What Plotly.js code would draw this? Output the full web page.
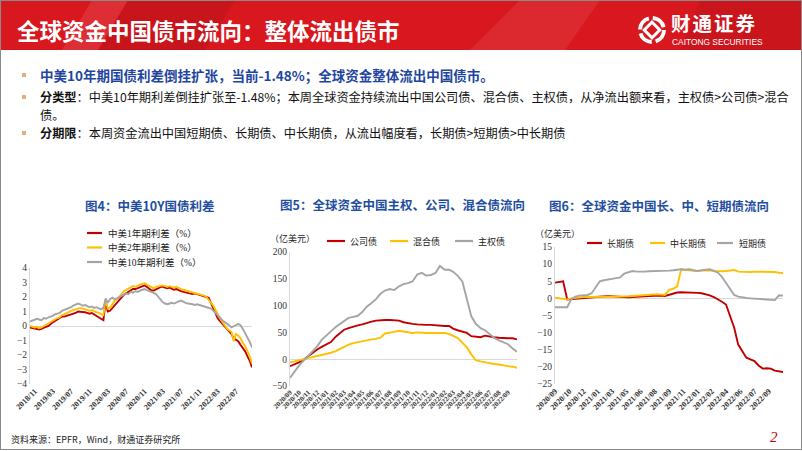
<!DOCTYPE html>
<html><head><meta charset="utf-8">
<script src="https://cdn.plot.ly/plotly-3.0.1.min.js"></script>
<style>
html,body{margin:0;padding:0;background:#fff;}
#wrap{position:relative;width:802px;height:451px;overflow:hidden;font-family:"Noto Sans CJK SC","Noto Sans",sans-serif;}
#chart{position:absolute;left:0;top:0;width:802px;height:451px;}
.t{position:absolute;white-space:nowrap;}
.dot{position:absolute;width:4px;height:4px;background:#E2B07A;}
#frame{position:absolute;left:0;top:0;width:800px;height:448px;border:1px solid #8a8a8a;pointer-events:none;}
</style></head>
<body><div id="wrap">
<svg class="t" style="left:0;top:0" width="802" height="50">
 <rect x="0" y="0" width="802" height="50" fill="#D8171E"/>
 <polygon points="92,0 128,0 98,50 62,50" fill="rgba(255,255,255,0.10)"/>
 <polygon points="128,0 235,0 205,50 98,50" fill="rgba(0,0,0,0.07)"/>
 <polygon points="520,0 600,0 565,50 470,50" fill="rgba(255,255,255,0.08)"/>
 <polygon points="700,0 802,0 802,50 680,50" fill="rgba(0,0,0,0.06)"/>
 <g transform="translate(652,30)" fill="none" stroke="#fff">
  <circle r="12" stroke-width="4" stroke-dasharray="15 4"/>
  <rect x="-5.5" y="-5.5" width="11" height="11" stroke-width="3" transform="rotate(45)"/>
 </g>
</svg>
<div class="t" style="left:17px;top:15px;font-size:22.5px;line-height:30px;font-weight:700;color:#fff;">全球资金中国债市流向：整体流出债市</div>
<div class="t" style="left:671px;top:12px;font-size:19.5px;line-height:21px;font-weight:700;color:#fff;letter-spacing:2px;">财通证券</div>
<div class="t" style="left:672px;top:38px;font-size:8.4px;line-height:9px;color:#fff;font-family:'Liberation Sans',sans-serif;">CAITONG SECURITIES</div>

<div class="dot" style="left:22px;top:73px;"></div>
<div class="t" style="left:40px;top:66px;font-size:13.5px;line-height:18px;font-weight:700;color:#1F45A0;">中美10年期国债利差倒挂扩张，当前-1.48%；全球资金整体流出中国债市。</div>
<div class="dot" style="left:22px;top:95px;"></div>
<div class="t" style="left:40px;top:88px;font-size:12.2px;line-height:18px;color:#111;"><b>分类型</b>：中美10年期利差倒挂扩张至-1.48%；本周全球资金持续流出中国公司债、混合债、主权债，从净流出额来看，主权债&gt;公司债&gt;混合<br>债。</div>
<div class="dot" style="left:22px;top:131px;"></div>
<div class="t" style="left:40px;top:124px;font-size:12.2px;line-height:18px;color:#111;"><b>分期限</b>：本周资金流出中国短期债、长期债、中长期债，从流出幅度看，长期债&gt;短期债&gt;中长期债</div>

<div id="chart"></div>
<div class="t" style="left:11px;top:434px;font-size:9px;line-height:12px;color:#222;">资料来源：EPFR，Wind，财通证券研究所</div>
<div class="t" style="left:770px;top:428px;font-size:15px;line-height:18px;color:#C00000;font-style:italic;font-family:'Liberation Serif',serif;">2</div>
<div id="frame"></div>
</div>
<script>
// ---------- Chart 4: 中美利差 (semi-monthly) ----------
const months4 = ['2018-10','2018-11','2018-12','2019-01','2019-02','2019-03','2019-04','2019-05','2019-06','2019-07','2019-08','2019-09','2019-10','2019-11','2019-12',
 '2020-01','2020-02','2020-03','2020-04','2020-05','2020-06','2020-07','2020-08','2020-09','2020-10','2020-11','2020-12',
 '2021-01','2021-02','2021-03','2021-04','2021-05','2021-06','2021-07','2021-08','2021-09','2021-10','2021-11','2021-12',
 '2022-01','2022-02','2022-03','2022-04','2022-05','2022-06','2022-07','2022-08','2022-09','2022-10'];
const spread1y = [-0.10,-0.15, -0.20,-0.25, -0.25,-0.20, -0.15,-0.05, 0.00,0.15, 0.25,0.35, 0.45,0.55, 0.65,0.65, 0.70,0.75, 0.75,0.85, 0.90,1.00, 1.00,0.95, 0.95,0.90, 0.85,0.90, 0.80,0.75,
 0.65,0.50, 0.40,1.70, 1.00,1.05, 1.25,1.45, 1.60,1.75, 1.95,2.15, 2.25,2.35, 2.45,2.55, 2.55,2.60, 2.70,2.75, 2.80,2.70, 2.55,2.45,
 2.45,2.55, 2.65,2.70, 2.70,2.65, 2.60,2.65, 2.55,2.50, 2.55,2.45, 2.40,2.35, 2.30,2.30, 2.25,2.20, 2.25,2.20, 2.20,2.15, 2.10,2.05,
 1.95,1.60, 1.20,0.90, 0.55,0.35, 0.15,-0.05, -0.20,-0.40, -0.55,-0.85, -0.95,-1.05, -1.30,-1.50, -1.75,-2.10, -2.40,-2.85];
const spread2y = [0.00,-0.05, -0.10,-0.05, -0.15,-0.10, 0.00,0.10, 0.20,0.30, 0.35,0.45, 0.55,0.60, 0.75,0.80, 0.85,0.95, 1.05,1.10, 1.15,1.20, 1.25,1.20, 1.15,1.10, 1.05,1.10, 1.00,0.95,
 0.90,0.80, 0.75,1.80, 1.20,1.25, 1.50,1.75, 1.85,2.00, 2.20,2.40, 2.50,2.60, 2.65,2.75, 2.70,2.80, 2.85,2.90, 2.95,2.85, 2.75,2.65,
 2.60,2.70, 2.75,2.80, 2.80,2.75, 2.70,2.75, 2.70,2.65, 2.70,2.60, 2.55,2.50, 2.45,2.40, 2.35,2.30, 2.30,2.25, 2.20,2.15, 2.10,2.00,
 1.80,1.55, 1.40,1.10, 0.80,0.55, 0.30,0.05, -0.15,-0.30, -0.40,-1.05, -0.55,-0.65, -0.85,-1.15, -1.40,-1.75, -2.10,-2.60];
const spread10y = [0.30,0.35, 0.40,0.50, 0.45,0.40, 0.55,0.50, 0.60,0.65, 0.70,0.80, 0.85,0.90, 1.05,1.10, 1.15,1.25, 1.30,1.40, 1.45,1.55, 1.50,1.40, 1.45,1.35, 1.30,1.35, 1.25,1.30,
 1.20,1.15, 1.25,1.90, 1.60,1.85, 1.95,1.85, 1.90,2.00, 2.10,2.20, 2.25,2.20, 2.35,2.30, 2.40,2.35, 2.45,2.50, 2.55,2.45, 2.40,2.35,
 2.30,2.20, 2.00,1.80, 1.65,1.55, 1.50,1.55, 1.60,1.55, 1.65,1.70, 1.75,1.65, 1.60,1.55, 1.55,1.50, 1.45,1.50, 1.45,1.40, 1.35,1.30,
 1.30,1.20, 1.05,0.90, 0.80,0.60, 0.40,0.30, 0.20,0.05, -0.10,-0.05, 0.05,0.15, 0.05,-0.20, -0.50,-0.85, -1.10,-1.48];
const names4 = ['中美1年期利差（%）','中美2年期利差（%）','中美10年期利差（%）'];
const ticks4 = ['2018/11','2019/03','2019/07','2019/11','2020/03','2020/07','2020/11','2021/03','2021/07','2021/11','2022/03','2022/07'];
const yticks4 = [-4,-3,-2,-1,0,1,2,3,4];

// ---------- Chart 5: 主权/公司/混合债 (semi-monthly, 亿美元) ----------
const months5 = ['2020-09','2020-10','2020-11','2020-12','2021-01','2021-02','2021-03','2021-04','2021-05','2021-06','2021-07','2021-08','2021-09','2021-10','2021-11','2021-12',
 '2022-01','2022-02','2022-03','2022-04','2022-05','2022-06','2022-07','2022-08','2022-09','2022-10'];
const corp5 = [-13,-10,-6,-1,6,13,18,23,27,32,42,50,55,58,61,63,65,68,70,72,73,73,73,72,72,69,67,66,65,64,64,64,63,62,62,62,57,54,52,49,43,42,41,44,42,41,40,39,39,39,37];
const mix5 = [-6,-4,-2,0,1,3,5,7,9,12,15,19,24,27,30,32,34,35,37,38,40,48,49,51,53,52,50,49,50,49,49,49,49,50,49,47,44,40,31,22,9,-2,-4,-6,-7,-9,-10,-12,-13,-14,-16];
const gov5 = [-35,-23,-12,-3,6,15,24,36,45,52,60,66,72,77,79,81,88,98,105,112,122,128,131,129,136,140,142,145,158,161,156,157,161,174,167,167,163,156,145,110,80,66,58,54,47,40,35,32,28,20,14];
const names5 = ['公司债','混合债','主权债'];
const ticks5 = ['2020/09','2020/10','2020/11','2020/12','2021/01','2021/02','2021/03','2021/04','2021/05','2021/06','2021/07','2021/08','2021/09','2021/10','2021/11','2021/12',
 '2022/01','2022/02','2022/03','2022/04','2022/05','2022/06','2022/07','2022/08','2022/09'];
const yticks5 = [-50,0,50,100,150,200];

// ---------- Chart 6: 长/中长/短期债 (bi-weekly, 亿美元) ----------
const dates6 = ['2020-09-02','2020-09-16','2020-09-30','2020-10-14','2020-10-28','2020-11-11','2020-11-25','2020-12-09','2020-12-23',
 '2021-01-06','2021-01-20','2021-02-03','2021-02-17','2021-03-03','2021-03-17','2021-03-31','2021-04-14','2021-04-28','2021-05-12','2021-05-26','2021-06-09','2021-06-23',
 '2021-07-07','2021-07-21','2021-08-04','2021-08-18','2021-09-01','2021-09-15','2021-09-29','2021-10-13','2021-10-27','2021-11-10','2021-11-24','2021-12-08','2021-12-22',
 '2022-01-05','2022-01-19','2022-02-02','2022-02-16','2022-03-02','2022-03-16','2022-03-30','2022-04-13','2022-04-27','2022-05-11','2022-05-25','2022-06-08','2022-06-22',
 '2022-07-06','2022-07-20','2022-08-03','2022-08-17','2022-08-31','2022-09-14','2022-09-28','2022-10-12','2022-10-26'];
const long6 = [4.6,4.8,5.0,-0.3,-0.2,0.0,0.1,0.2,0.3,0.3,0.4,0.5,0.6,0.7,0.6,0.5,0.4,0.4,0.3,0.4,0.4,0.5,0.6,0.7,0.8,0.9,0.8,0.7,1.0,1.5,
 1.7,1.8,1.8,1.7,1.7,1.6,1.5,1.3,0.9,0.4,-0.2,-1.0,-1.8,-5.5,-8.5,-13.5,-15.3,-17.3,-17.8,-18.3,-19.6,-20.5,-20.4,-20.5,-21.1,-21.3,-21.5];
const mid6 = [0.2,0.1,0.0,-0.3,0.0,0.2,0.4,0.4,0.4,0.4,0.5,0.5,0.5,0.6,0.6,0.5,0.5,0.6,0.6,0.7,0.8,0.8,0.9,1.0,1.1,1.2,1.1,1.0,2.5,2.8,
 3.5,8.5,8.3,8.2,8.0,8.0,8.1,8.2,8.2,8.0,7.9,7.9,8.0,8.2,8.3,7.8,7.7,7.6,7.7,7.8,7.8,7.8,7.7,7.7,7.7,7.5,7.4];
const short6 = [-2.6,-2.6,-2.6,-2.6,-0.2,0.5,0.8,0.9,1.0,1.5,3.2,5.0,5.3,5.6,5.7,5.9,6.1,7.2,7.7,8.0,7.8,7.7,7.8,7.9,7.9,8.0,8.0,8.0,8.1,8.2,
 8.4,8.5,8.4,8.5,8.2,8.0,8.2,8.4,8.5,8.0,7.5,6.3,4.5,2.5,1.0,0.5,0.2,0.1,0.0,-0.1,-0.2,-0.4,-0.4,-0.5,-0.5,0.9,0.8];
const names6 = ['长期债','中长期债','短期债'];
const tickdates6 = ['2020-09-02','2020-10-21','2020-12-09','2021-01-27','2021-03-17','2021-05-05','2021-06-23','2021-08-11','2021-09-29','2021-11-17','2022-01-05','2022-02-23','2022-04-13','2022-06-01','2022-07-20','2022-09-07'];
const ticks6 = ['2020/09','2020/10','2020/12','2021/01','2021/03','2021/05','2021/06','2021/08','2021/09','2021/11','2022/01','2022/02','2022/04','2022/06','2022/07','2022/09'];
const yticks6 = [-25,-20,-15,-10,-5,0,5,10,15];

const titles = ['图4：中美10Y国债利差','图5：全球资金中国主权、公司、混合债流向','图6：全球资金中国长、中、短期债流向'];
const unitLabel = '（亿美元）';

// ---------- build ----------
const W = 802, H = 451;
const COLORS = ['#C00000','#FFC000','#A5A5A5'];
const fx = x => x / W, fy = y => 1 - y / H;
const semi = ms => { const out = []; ms.forEach(m => { out.push(m + '-01'); out.push(m + '-16'); }); return out; };
const dates4 = semi(months4);
const dates5 = semi(months5).slice(0, -1);
const tv = t => t.map(s => s.replace('/', '-') + '-01');

function tr(x, y, name, ci, xa, ya) {
  return {x: x, y: y, name: name, type: 'scatter', mode: 'lines', xaxis: xa, yaxis: ya,
    line: {color: COLORS[ci], width: 1.9}, hoverinfo: 'skip', showlegend: false};
}
const traces = [
  tr(dates4, spread1y, names4[0], 0, 'x', 'y'),
  tr(dates4, spread2y, names4[1], 1, 'x', 'y'),
  tr(dates4, spread10y, names4[2], 2, 'x', 'y'),
  tr(dates5, corp5, names5[0], 0, 'x2', 'y2'),
  tr(dates5, mix5, names5[1], 1, 'x2', 'y2'),
  tr(dates5, gov5, names5[2], 2, 'x2', 'y2'),
  tr(dates6, long6, names6[0], 0, 'x3', 'y3'),
  tr(dates6, mid6, names6[1], 1, 'x3', 'y3'),
  tr(dates6, short6, names6[2], 2, 'x3', 'y3')
];

const tickFontX = {family: 'Liberation Serif, Noto Sans CJK SC, serif', size: 8, color: '#333', weight: 'bold'};
const tickFontY = {family: 'Liberation Serif, Noto Sans CJK SC, serif', size: 9.5, color: '#333'};
function xax(x0, x1, anchor, range, vals, text, fs) {
  return {domain: [fx(x0), fx(x1)], anchor: anchor, type: 'date', range: range, tickmode: 'array',
    tickvals: vals, ticktext: text, tickangle: -45, tickfont: Object.assign({}, tickFontX, {size: fs}),
    showgrid: false, zeroline: false, showline: false, ticks: '', fixedrange: true};
}
function yax(y0, y1, anchor, range, vals) {
  return {domain: [fy(y1), fy(y0)], anchor: anchor, range: range, tickmode: 'array', tickvals: vals,
    tickfont: tickFontY, showgrid: false, zeroline: true, zerolinecolor: '#D9D9D9', zerolinewidth: 1,
    showline: true, linecolor: '#D9D9D9', linewidth: 1, ticks: '', fixedrange: true};
}

const annotations = [];
const shapes = [];
function ann(text, x, y, xanchor, font) {
  annotations.push({text: text, x: fx(x), y: fy(y), xref: 'paper', yref: 'paper', xanchor: xanchor, yanchor: 'middle',
    showarrow: false, font: font});
}
function legLine(x0, x1, y, ci) {
  shapes.push({type: 'line', xref: 'paper', yref: 'paper', x0: fx(x0), x1: fx(x1), y0: fy(y), y1: fy(y),
    line: {color: COLORS[ci], width: 2.2}});
}
const titleFont = {family: 'Noto Sans CJK SC, sans-serif', size: 12.5, color: '#1F4E9F', weight: 'bold'};
ann(titles[0], 149, 205, 'center', titleFont);
ann(titles[1], 402, 204, 'center', titleFont);
ann(titles[2], 659, 205, 'center', titleFont);

const legFont = {family: 'Liberation Serif, Noto Sans CJK SC, serif', size: 9, color: '#222'};
const legFont4 = Object.assign({}, legFont, {size: 9.5});
// chart 4 legend (vertical)
[233, 247.5, 262].forEach((y, i) => { legLine(87, 102, y, i); ann(names4[i], 106, y, 'left', legFont4); });
// chart 5 legend
ann(unitLabel, 268, 238, 'left', legFont);
[[327, 345, 348], [390, 408, 411], [455, 473, 476]].forEach((p, i) => { legLine(p[0], p[1], 241, i); ann(names5[i], p[2], 241, 'left', legFont); });
// chart 6 legend
ann(unitLabel, 533, 233, 'left', legFont);
[[587, 602, 605], [650, 665, 668], [717, 733, 737]].forEach((p, i) => { legLine(p[0], p[1], 243, i); ann(names6[i], p[2], 243, 'left', legFont); });

const layout = {
  width: W, height: H, margin: {l: 0, r: 0, t: 0, b: 0}, autosize: false,
  paper_bgcolor: 'rgba(0,0,0,0)', plot_bgcolor: 'rgba(0,0,0,0)', showlegend: false,
  font: {family: 'Liberation Serif, Noto Sans CJK SC, serif'},
  xaxis: xax(30, 252, 'y', ['2018-10-01', '2022-10-16'], tv(ticks4), ticks4, 8),
  yaxis: yax(268, 384, 'x', [-4, 4], yticks4),
  xaxis2: xax(290, 517, 'y2', ['2020-09-01', '2022-10-01'], tv(ticks5), ticks5, 7),
  yaxis2: yax(252, 386, 'x2', [-50, 200], yticks5),
  xaxis3: xax(555, 783, 'y3', ['2020-09-02', '2022-10-26'], tickdates6, ticks6, 8),
  yaxis3: yax(247, 384, 'x3', [-25, 15], yticks6),
  annotations: annotations, shapes: shapes
};
Plotly.newPlot('chart', traces, layout, {staticPlot: true, displayModeBar: false});
</script>
</body></html>
